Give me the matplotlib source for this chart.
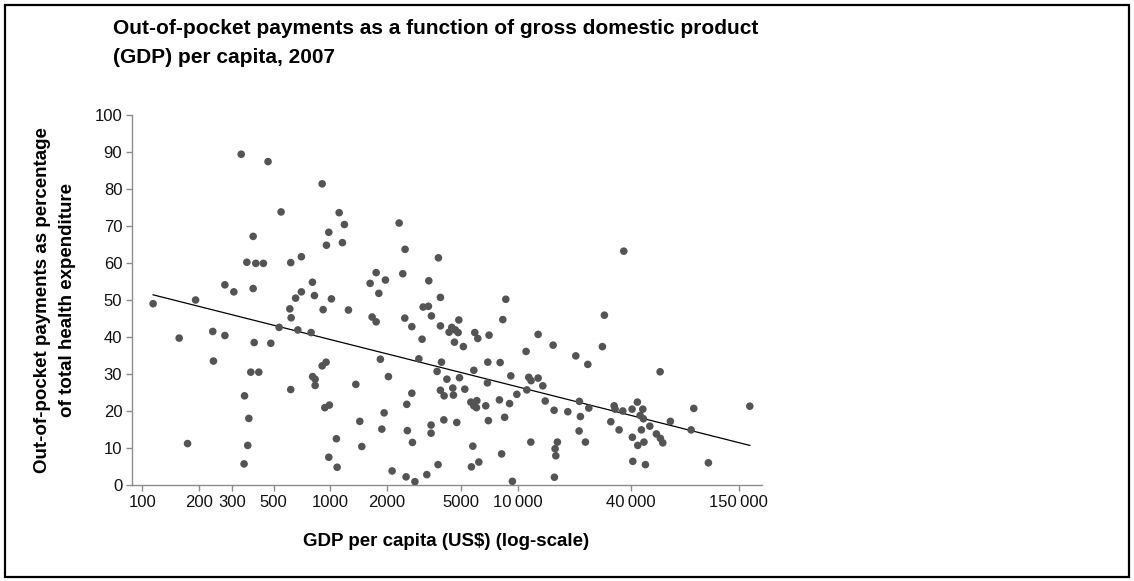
import matplotlib
matplotlib.use("Agg")
import matplotlib.pyplot as plt
from matplotlib.patches import Rectangle
import numpy as np

# ── Data ─────────────────────────────────────────────────────────────────────
# GDP per capita (US$) and out-of-pocket share of total health expenditure (%)
gdp = [
    114, 157, 192, 237, 239, 275, 174, 275, 307, 336, 467, 548, 389, 360, 402,
    441, 617, 703, 389, 805, 825, 703, 655, 394, 483, 535, 378, 417, 350, 369,
    364, 348, 617, 610, 620, 673, 792, 807, 832, 832, 907, 1117, 1192, 984, 956,
    1163, 2332, 2509, 3776, 1759, 2439, 1634, 1971, 1818, 3356, 1016, 918, 1252,
    3870, 3130, 3340, 3465, 8630, 1674, 1759, 2500, 4850, 8320, 2725, 3870, 4305,
    4450, 4650, 4810, 4595, 5130, 3090, 5900, 6120, 7030, 1853, 2970, 3920, 3715,
    4190, 4890, 5830, 6920, 8050, 6890, 9180, 9880, 907, 952, 1371, 2045, 2725,
    2562, 3870, 4050, 4505, 4540, 5220, 937, 991, 5620, 6050, 5830, 6020, 6750,
    7980, 9040, 8510, 6970, 4730, 4035, 1940, 1439, 1886, 2580, 3450, 3450, 2745,
    1080, 1475, 5760, 984, 1090, 8200, 2140, 2540, 2830, 3275, 3760, 5660, 6200,
    9360, 36700, 28930, 12830, 15420, 11070, 28230, 20370, 23600, 11440, 11770,
    12830, 13590, 11170, 14000, 15610, 18470, 21290, 23890, 21550, 21210, 22920,
    11730, 16250, 15800, 15940, 15670, 31300, 34650, 32600, 32990, 36260, 40630,
    43360, 46340, 44830, 46690, 50500, 45550, 40780, 43570, 47000, 54740, 57500,
    59200, 40990, 47850, 57300, 65010, 83800, 86600, 103600, 172200,
]
oop = [
    49.0, 39.7, 50.0, 41.5, 33.5, 40.4, 11.2, 54.1, 52.2, 89.4, 87.4, 73.8, 67.2,
    60.2, 59.9, 59.9, 60.1, 61.7, 53.1, 54.8, 51.2, 52.2, 50.5, 38.5, 38.3, 42.6,
    30.5, 30.5, 24.1, 18.0, 10.7, 5.7, 25.8, 47.6, 45.2, 41.9, 41.2, 29.3, 28.6,
    26.9, 81.4, 73.6, 70.4, 68.3, 64.8, 65.5, 70.8, 63.7, 61.4, 57.4, 57.1, 54.5,
    55.4, 51.8, 55.2, 50.3, 47.4, 47.3, 50.7, 48.1, 48.3, 45.7, 50.2, 45.4, 44.1,
    45.1, 44.6, 44.7, 42.8, 43.0, 41.3, 42.6, 41.9, 41.2, 38.6, 37.4, 39.4, 41.2,
    39.6, 40.5, 34.0, 34.1, 33.2, 30.7, 28.6, 29.0, 31.0, 33.2, 33.1, 27.6, 29.5,
    24.5, 32.2, 33.2, 27.2, 29.3, 24.8, 21.8, 25.6, 24.1, 26.2, 24.3, 25.9, 20.9,
    21.6, 22.4, 22.8, 21.4, 20.9, 21.4, 23.0, 22.0, 18.3, 17.4, 16.9, 17.6, 19.5,
    17.2, 15.1, 14.7, 16.2, 14.0, 11.5, 12.5, 10.4, 10.5, 7.5, 4.8, 8.4, 3.8,
    2.2, 0.9, 2.8, 5.5, 4.9, 6.2, 1.0, 63.2, 45.9, 40.7, 37.8, 36.1, 37.4, 34.9,
    32.6, 29.1, 28.2, 28.9, 26.8, 25.7, 22.7, 20.2, 19.8, 22.6, 20.8, 18.5, 14.6,
    11.6, 11.6, 11.6, 9.8, 7.9, 2.1, 17.1, 14.9, 21.4, 20.5, 20.0, 20.5, 22.4,
    20.5, 18.8, 17.9, 15.9, 14.9, 12.9, 10.7, 11.6, 13.8, 12.6, 11.4, 6.4, 5.5,
    30.6, 17.2, 14.9, 20.7, 6.0, 21.3,
]

# trend line end values (at min and max GDP)
trend_y = [51.4, 10.7]

xticks = [100, 200, 300, 500, 1000, 2000, 5000, 10000, 40000, 150000]
xtick_labels = ["100", "200", "300", "500", "1000", "2000", "5000",
                "10\u2009000", "40\u2009000", "150\u2009000"]
yticks = list(range(0, 101, 10))

# ── Plot ─────────────────────────────────────────────────────────────────────
plt.rcParams["font.family"] = ["Liberation Sans", "DejaVu Sans"]

DOT = "#545454"
AXIS = "#8c8c8c"

fig = plt.figure(figsize=(11.34, 5.81), dpi=100)
ax = fig.add_axes([132 / 1134, 1 - 485 / 581, 630 / 1134, 370 / 581])

gdp_arr = np.array(gdp)
ax.scatter(gdp_arr, oop, s=30, color=DOT, edgecolors="none", zorder=3)
ax.plot([gdp_arr.min(), gdp_arr.max()], trend_y, color="black", lw=0.9, zorder=2)

ax.set_xscale("log")
ax.set_xlim(88, 200000)
ax.set_ylim(0, 100)
ax.set_xticks(xticks)
ax.set_xticklabels(xtick_labels)
ax.xaxis.set_minor_locator(matplotlib.ticker.NullLocator())
ax.set_yticks(yticks)

for s in ["top", "right"]:
    ax.spines[s].set_visible(False)
for s in ["left", "bottom"]:
    ax.spines[s].set_color(AXIS)
    ax.spines[s].set_linewidth(1.0)

ax.tick_params(axis="x", colors=AXIS, length=4, width=1, pad=3, labelcolor="#111111",
               labelsize=12)
ax.tick_params(axis="y", colors=AXIS, length=4.5, width=1, pad=2.5, labelcolor="#111111",
               labelsize=12)

fig.text(113 / 1134, 1 - 19 / 581,
         "Out-of-pocket payments as a function of gross domestic product\n"
         "(GDP) per capita, 2007",
         ha="left", va="top", fontsize=15, fontweight="bold", linespacing=1.68)

fig.text(55 / 1134, 1 - 300 / 581,
         "Out-of-pocket payments as percentage\nof total health expenditure",
         rotation=90, ha="center", va="center", multialignment="center",
         fontsize=13.5, fontweight="bold", linespacing=1.55)

fig.text(446 / 1134, 1 - 542 / 581, "GDP per capita (US$) (log-scale)",
         ha="center", va="center", fontsize=13.5, fontweight="bold")

# outer frame
fig.patches.append(Rectangle((5 / 1134, 4 / 581), 1124 / 1134, 572 / 581,
                             transform=fig.transFigure, fill=False,
                             edgecolor="black", lw=1.6))

fig.savefig("out.png", dpi=100)
